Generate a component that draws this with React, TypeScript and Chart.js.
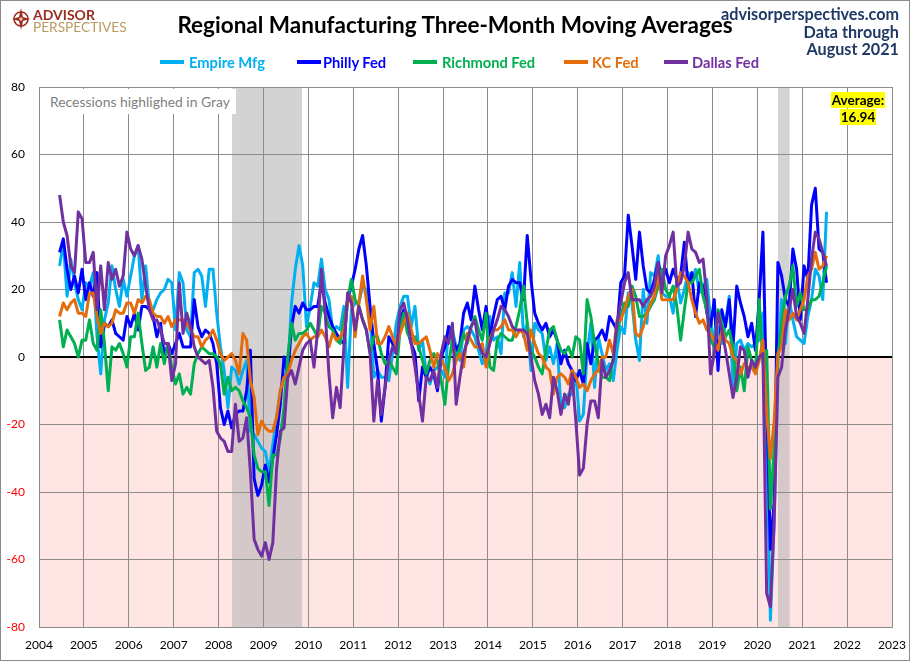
import React, { useEffect, useRef } from "react";
import { Chart, registerables } from "chart.js";

Chart.register(...registerables);

// Monthly observations, first point mid-June 2004, last point July 2021
const FIRST_YEAR = 2004;
const FIRST_MONTH_OFFSET = 5.5; // months after Jan 1 of FIRST_YEAR

const empireMfg = [
  27, 34, 18, 29, 22, 17, 14, 22, 21, 25, 6, -5,
  11, 16, 27, 20, 15, 23, 18, 24, 30, 33, 17, 27,
  15, 14, 17, 19, 20, 23, 22, 8, 25, 22, 8, 6,
  25, 26, 24, 15, 26, 26, 13, 3, -4, -15, -3, -4,
  -8, -4, -1, -22, -23, -25, -27, -28, -34, -26, -18, -10,
  -6, -4, 16, 26, 33, 27, 9, 15, 22, 21, 29, 20,
  17, 8, 9, 8, 15, -9, 14, 16, 16, 21, 20, 12,
  -6, -4, -6, -6, -7, 1, 10, 15, 18, 18, 9, 15,
  2, 5, -5, -8, -4, -3, -4, -6, 9, 8, 3, -1,
  8, 9, 8, 6, 2, -2, 1, 12, 5, 6, 1, 19,
  19, 25, 15, 28, 6, 10, -4, 10, 8, 7, -1, 3,
  -2, 4, -15, -15, -11, -11, -5, -19, -17, 1, 10, -9,
  6, 1, -4, -2, -7, 2, 9, 7, 19, 16, 5, -1,
  20, 10, 25, 24, 30, 19, 18, 18, 13, 23, 16, 20,
  25, 23, 26, 19, 21, 23, 11, 4, 9, 4, 10, 18,
  -9, 4, 5, 2, 4, 3, 4, 5, 13, -22, -78, -49,
  0, 17, 4, 17, 11, 6, 5, 4, 12, 17, 26, 24, 17, 43,
];

const phillyFed = [
  31, 35, 26, 20, 24, 19, 26, 17, 22, 18, 25, 3,
  10, 9, 11, 7, 6, 5, 12, 9, 13, 8, 15, 15,
  14, 12, 6, 10, 0, 4, 1, 4, 7, 3, 3, 3,
  17, 9, 6, 8, 7, 4, -2, -15, -20, -16, -21, -17,
  -16, -16, -10, 2, -36, -41, -38, -32, -37, -30, -23, -14,
  0, -5, 9, 15, 13, 16, 14, 14, 15, 15, 22, 16,
  12, 9, 7, 5, 4, 17, 21, 26, 32, 36, 27, 15,
  4, -4, -19, -9, 6, 4, 1, 11, 14, 8, 4, 1,
  -13, -3, -6, -3, -5, -10, 0, 3, 9, 6, 2, 4,
  13, 16, 11, 21, 14, 8, 15, 6, 12, 17, 18, 14,
  21, 23, 22, 22, 17, 36, 23, 13, 10, 8, 10, 6,
  8, 5, -2, 2, -2, -4, -7, -4, -8, 4, -2, 5,
  6, 8, 5, 12, 10, 8, 22, 24, 42, 33, 23, 37,
  27, 20, 19, 23, 28, 23, 26, 22, 26, 23, 24, 34,
  21, 25, 12, 22, 21, 13, 9, 17, -4, 14, 9, 17,
  3, 21, 16, 12, 6, 10, 2, 17, 37, -13, -57, -43,
  28, 24, 17, 15, 32, 26, 11, 27, 23, 45, 50, 32, 31, 22,
];

const richmondFed = [
  11, 3, 8, 6, 4, 0, 5, 5, 11, 4, 2, 14,
  4, -10, 3, 2, 4, 1, -3, 6, 6, 13, 4, -4,
  -3, 3, -3, 4, -2, 4, -3, -8, -5, -11, -9, -11,
  -2, 1, 3, 2, 1, 1, 0, -2, -11, -6, -10, -9,
  -10, -13, -15, -18, -29, -33, -34, -34, -44, -29, -29, -24,
  -15, 0, 10, 5, 7, 7, 8, 10, 8, 6, 15, 13,
  9, 8, 5, 4, 11, 17, 23, 17, 15, 11, 8, 1,
  6, 6, 1, -2, -1, -3, -5, 8, 13, 7, 5, 6,
  3, -1, -5, -1, 1, -1, -7, -14, -2, 5, -1, 3,
  7, 4, 9, 12, 8, 5, 13, -3, -4, 5, 7, 6,
  5, 5, 9, 14, 21, 10, 2, 0, -3, -5, 2, 8,
  9, 5, 2, 1, 3, 0, 6, 5, -5, 17, 12, 4,
  -2, -6, -6, -7, 0, 7, 12, 16, 15, 21, 18, 12,
  12, 13, 15, 17, 21, 26, 20, 18, 21, 15, 5, 14,
  22, 22, 24, 26, 18, 14, 5, 3, 14, 10, 6, 8,
  3, -10, -3, -10, 3, -1, -4, 17, -2, 2, -45, -27,
  0, 10, 18, 21, 27, 15, 19, 14, 14, 17, 17, 18, 22, 27,
];

const kcFed = [
  12, 16, 14, 16, 17, 13, 13, 12, 19, 19, 12, 7,
  10, 9, 10, 14, 13, 13, 16, 16, 13, 17, 16, 18,
  17, 13, 12, 12, 10, 12, 9, 11, 11, 11, 10, 8,
  6, 6, 3, 5, 6, 8, 5, 1, -1, 0, 1, -1,
  -5, 7, 5, -7, -12, -23, -19, -21, -22, -22, -18, -10,
  -6, -5, -1, 2, 4, 6, 7, 5, 6, 6, 8, 6,
  3, 7, 5, 6, 8, 16, 18, 6, 16, 24, 17, 8,
  15, 4, 4, 6, 9, 6, 3, 7, 10, 13, 8, 4,
  4, 5, 6, 2, -3, 1, -1, -3, -7, -5, -1, 1,
  -3, 7, 5, 3, 3, 4, -3, 5, 8, 8, 9, 11,
  8, 8, 6, 8, 7, 2, 8, 4, 1, 0, -3, -4,
  -11, -6, -5, -6, -8, -4, -6, -9, -8, -10, -7, -5,
  -4, 0, 0, 5, 1, 11, 11, 14, 18, 20, 7, 6,
  9, 13, 16, 18, 25, 17, 17, 17, 17, 20, 25, 24,
  22, 17, 13, 10, 11, 8, 7, 5, 2, 8, 5, 4,
  0, -1, -5, -2, -3, -3, -5, -1, 5, -17, -30, -19,
  1, 3, 14, 11, 13, 11, 14, 17, 24, 26, 31, 26, 27, 30,
];

const dallasFed = [
  48, 40, 36, 27, 25, 43, 41, 28, 28, 31, 14, 27,
  14, 28, 23, 26, 21, 24, 37, 32, 30, 33, 29, 21,
  14, 11, 11, 8, 4, 4, -7, -2, 22, 7, 13, 9,
  3, 0, -1, -2, -1, -9, -22, -24, -25, -28, -28, -14,
  -25, -24, -18, -34, -54, -57, -59, -55, -60, -55, -33, -22,
  -21, -6, -4, -8, -3, 2, 4, 5, -3, 8, 26, 13,
  -5, -18, -9, -15, 3, 19, 16, 8, 15, 11, 8, 1,
  -19, -7, -17, -9, -1, 3, 1, 14, 16, 11, 4, -3,
  -11, -19, -6, -7, -4, -9, 1, 6, 4, 10, -14, -6,
  1, 5, 9, 11, 4, 1, 0, 4, 8, 11, 15, 14,
  12, 9, 8, 8, 8, 7, 0, -7, -11, -17, -14, -18,
  -6, -10, -17, -11, -14, -5, -19, -35, -33, -20, -13, -13,
  -18, -1, -6, -4, -1, 10, 16, 22, 25, 17, 17, 17,
  15, 17, 18, 21, 28, 19, 30, 33, 37, 21, 22, 27,
  37, 32, 31, 28, 29, 18, -5, 1, 13, 8, 2, -5,
  -12, -6, 3, 2, -6, -1, -3, 0, 1, -70, -74, -49,
  -6, -3, 8, 14, 20, 12, 10, 7, 17, 29, 37, 35, 31, 27,
];

const seriesNames = ["Empire Mfg", "Philly Fed", "Richmond Fed", "KC Fed", "Dallas Fed"];
const seriesValues = [empireMfg, phillyFed, richmondFed, kcFed, dallasFed];
const seriesColors = ["#00B0F0", "#0000FF", "#00B050", "#E46C0A", "#7030A0"];

const yearTicks = [
  2004, 2005, 2006, 2007, 2008, 2009, 2010, 2011, 2012, 2013,
  2014, 2015, 2016, 2017, 2018, 2019, 2020, 2021, 2022, 2023,
];
const valueTicks = [-80, -60, -40, -20, 0, 20, 40, 60, 80];

// Gray recession bands as drawn in the reference (decimal years)
const recessionStarts = [2008.3, 2020.46];
const recessionEnds = [2009.86, 2020.72];

const averageText = "16.94";

const GRID = "#8c8c8c";

const bandsPlugin = {
  id: "bands",
  beforeDraw(chart: any) {
    const { ctx, chartArea: a, scales } = chart;
    const x = scales.x;
    const y = scales.y;
    ctx.save();
    ctx.fillStyle = "#ffffff";
    ctx.fillRect(0, 0, chart.width, chart.height);
    const y0 = y.getPixelForValue(0);
    ctx.fillStyle = "#FFE4E4";
    ctx.fillRect(a.left, y0, a.right - a.left, a.bottom - y0);
    for (let k = 0; k < recessionStarts.length; k++) {
      const x1 = x.getPixelForValue(recessionStarts[k]);
      const x2 = x.getPixelForValue(recessionEnds[k]);
      ctx.fillStyle = "#D3D3D3";
      ctx.fillRect(x1, a.top, x2 - x1, y0 - a.top);
      ctx.fillStyle = "#D4C8C8";
      ctx.fillRect(x1, y0, x2 - x1, a.bottom - y0);
    }
    ctx.restore();
  },
};

const legendLines = [160, 297, 413, 564, 664];
const legendTexts = [189, 323, 442, 592, 692];

export default function App() {
  const ref = useRef<HTMLCanvasElement | null>(null);

  useEffect(() => {
    const canvas = ref.current;
    if (!canvas) return;
    const datasets = seriesValues.map((vals, s) => ({
      label: seriesNames[s],
      data: vals.map((v, i) => ({ x: FIRST_YEAR + (FIRST_MONTH_OFFSET + i) / 12, y: v })),
      borderColor: seriesColors[s],
      backgroundColor: seriesColors[s],
      borderWidth: 3,
      pointRadius: 0,
      tension: 0,
      fill: false,
      borderJoinStyle: "round" as const,
      order: seriesValues.length - s,
    }));
    const tickFont = { family: "Lato, sans-serif", size: 12 };
    const chart = new Chart(canvas, {
      type: "line",
      data: { datasets },
      options: {
        animation: false,
        responsive: false,
        maintainAspectRatio: false,
        events: [],
        layout: { padding: { top: 87, right: 18, bottom: 0, left: 0 } },
        plugins: {
          legend: { display: false },
          title: { display: false },
          tooltip: { enabled: false },
        },
        scales: {
          x: {
            type: "linear",
            min: 2004,
            max: 2023,
            afterBuildTicks: (scale: any) => {
              scale.ticks = yearTicks.map((v) => ({ value: v }));
            },
            afterFit: (scale: any) => {
              scale.height = 34;
              scale.paddingLeft = 0;
              scale.paddingRight = 0;
            },
            ticks: {
              callback: (v: any) => String(v),
              color: "#000000",
              font: tickFont,
              padding: 11,
              maxRotation: 0,
              autoSkip: false,
            },
            grid: { color: GRID, lineWidth: 1, drawTicks: false },
            border: { display: true, color: GRID },
          },
          y: {
            type: "linear",
            min: -80,
            max: 80,
            afterBuildTicks: (scale: any) => {
              scale.ticks = valueTicks.map((v) => ({ value: v }));
            },
            afterFit: (scale: any) => {
              scale.width = 39;
            },
            ticks: {
              callback: (v: any) => String(v),
              color: (c: any) => (c.tick && c.tick.value < 0 ? "#FF0000" : "#000000"),
              font: tickFont,
              padding: 14,
            },
            grid: {
              color: (c: any) => (c.tick && c.tick.value === 0 ? "#000000" : GRID),
              lineWidth: (c: any) => (c.tick && c.tick.value === 0 ? 2 : 1),
              drawTicks: false,
            },
            border: { display: true, color: GRID },
          },
        },
      },
      plugins: [bandsPlugin],
    } as any);
    return () => chart.destroy();
  }, []);

  return (
    <div
      style={{
        position: "fixed",
        left: 0,
        top: 0,
        width: 910,
        height: 661,
        background: "#ffffff",
        overflow: "hidden",
        fontFamily: "Lato, sans-serif",
      }}
    >
      <canvas
        ref={ref}
        width={910}
        height={661}
        style={{ position: "absolute", left: 0, top: 0, width: 910, height: 661 }}
      />

      {/* Logo */}
      <svg
        width="20"
        height="24"
        viewBox="0 0 20 24"
        style={{ position: "absolute", left: 11, top: 7 }}
      >
        <circle cx="10" cy="12" r="7" fill="none" stroke="#9B2D20" strokeWidth="1.6" />
        <polygon points="10,1 12,10 19,12 12,14 10,23 8,14 1,12 8,10" fill="#9B2D20" />
        <circle cx="10" cy="12" r="1.8" fill="#E8C9A0" />
      </svg>
      <div
        style={{
          position: "absolute",
          left: 33,
          top: 8,
          fontSize: 14,
          fontWeight: 700,
          color: "#9B2D20",
          lineHeight: "14px",
        }}
      >
        ADVISOR
      </div>
      <div
        style={{
          position: "absolute",
          left: 33,
          top: 20,
          fontSize: 13.7,
          fontWeight: 400,
          color: "#B99A5E",
          lineHeight: "13px",
        }}
      >
        PERSPECTIVES
      </div>

      {/* Title */}
      <div
        style={{
          position: "absolute",
          left: 0,
          top: 10,
          width: 910,
          textAlign: "center",
          fontSize: 22.5,
          fontWeight: 700,
          color: "#000000",
          lineHeight: "30px",
        }}
      >
        Regional Manufacturing Three-Month Moving Averages
      </div>

      {/* Source notes */}
      <div
        style={{
          position: "absolute",
          right: 11,
          top: 5,
          textAlign: "right",
          fontSize: 16.2,
          fontWeight: 700,
          color: "#1F3864",
          lineHeight: "17.5px",
        }}
      >
        <div>advisorperspectives.com</div>
        <div>Data through</div>
        <div>August 2021</div>
      </div>

      {/* Legend */}
      {seriesNames.map((name, s) => (
        <React.Fragment key={name}>
          <div
            style={{
              position: "absolute",
              left: legendLines[s],
              top: 60,
              width: 24,
              height: 4,
              background: seriesColors[s],
            }}
          />
          <div
            style={{
              position: "absolute",
              left: legendTexts[s],
              top: 53,
              fontSize: 14.7,
              fontWeight: 700,
              color: seriesColors[s],
              lineHeight: "18px",
              whiteSpace: "nowrap",
            }}
          >
            {name}
          </div>
        </React.Fragment>
      ))}

      {/* Recession note */}
      <div
        style={{
          position: "absolute",
          left: 43,
          top: 89,
          width: 193,
          height: 25,
          background: "#ffffff",
          color: "#7F7F7F",
          fontSize: 13.9,
          lineHeight: "25px",
          paddingLeft: 7,
          boxSizing: "border-box",
          whiteSpace: "nowrap",
        }}
      >
        Recessions highlighed in Gray
      </div>

      {/* Average label */}
      <div
        style={{
          position: "absolute",
          left: 818,
          top: 93,
          width: 80,
          textAlign: "center",
          fontSize: 13.5,
          fontWeight: 700,
          color: "#000000",
          lineHeight: "15px",
        }}
      >
        <div>
          <span style={{ background: "#FFFF00", padding: "0 1px" }}>Average:</span>
        </div>
        <div style={{ marginTop: 2 }}>
          <span style={{ background: "#FFFF00", padding: "0 1px" }}>{averageText}</span>
        </div>
      </div>

      {/* Outer frame */}
      <div
        style={{
          position: "absolute",
          left: 0,
          top: 0,
          width: 910,
          height: 661,
          border: "1px solid #8c8c8c",
          boxSizing: "border-box",
          pointerEvents: "none",
        }}
      />
    </div>
  );
}
